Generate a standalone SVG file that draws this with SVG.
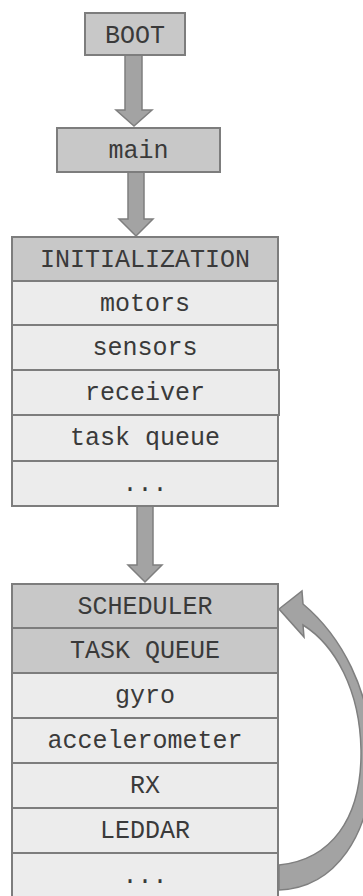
<svg xmlns="http://www.w3.org/2000/svg" width="363" height="896" viewBox="0 0 363 896">
  <style>
    .head { fill: #c8c8c8; stroke: #7d7d7d; stroke-width: 2; }
    .row { fill: #ececec; stroke: #7d7d7d; stroke-width: 2; }
    .lbl { font-family: "Courier New", "Liberation Mono", monospace; font-size: 25px; fill: #3a3a3a; text-anchor: middle; }
    .arrow { fill: #a3a3a3; stroke: #7f7f7f; stroke-width: 1.5; stroke-linejoin: miter; }
  </style>
  <rect width="363" height="896" fill="#ffffff"/>

  <!-- connectors -->
  <g id="connectors">
    <path class="arrow" d="M125 55 H142 V110 H152 L134 126 L116 110 H125 Z"/>
    <path class="arrow" d="M128 172 H144 V219 H153 L136 236 L119 219 H128 Z"/>
    <path class="arrow" d="M137 506 H153 V565 H162 L145 582 L128 565 H137 Z"/>
    <!-- loop back from the last task to the scheduler -->
    <path class="arrow" d="M279 865 C330 860, 362 820, 361 750 C360 690, 335 645, 303 625 L304 637 L279 609 L302 591 L303 604 C340 635, 372 690, 372 760 C372 835, 335 888, 279 890 Z"/>
  </g>

  <g id="boot">
    <rect class="head" x="85" y="13" width="100" height="42"/>
    <text class="lbl" x="135" y="43">BOOT</text>
  </g>
  <g id="main">
    <rect class="head" x="57" y="128" width="163" height="44"/>
    <text class="lbl" x="138.5" y="158">main</text>
  </g>

  <g id="initialization">
    <rect class="head" x="12" y="237" width="266" height="44"/>
    <text class="lbl" x="145" y="267">INITIALIZATION</text>
  </g>
  <g id="init-motors">
    <rect class="row" x="12" y="281" width="266" height="44"/>
    <text class="lbl" x="145" y="311">motors</text>
  </g>
  <g id="init-sensors">
    <rect class="row" x="12" y="325" width="266" height="45"/>
    <text class="lbl" x="145" y="355">sensors</text>
  </g>
  <g id="init-receiver">
    <rect class="row" x="12" y="370" width="267" height="45"/>
    <text class="lbl" x="145" y="400">receiver</text>
  </g>
  <g id="init-task-queue">
    <rect class="row" x="12" y="415" width="266" height="46"/>
    <text class="lbl" x="145" y="445">task queue</text>
  </g>
  <g id="init-more">
    <rect class="row" x="12" y="461" width="266" height="45"/>
    <text class="lbl" x="145" y="491">...</text>
  </g>

  <g id="scheduler">
    <rect class="head" x="12" y="584" width="266" height="44"/>
    <text class="lbl" x="145" y="614">SCHEDULER</text>
  </g>
  <g id="task-queue">
    <rect class="head" x="12" y="628" width="266" height="45"/>
    <text class="lbl" x="145" y="658">TASK QUEUE</text>
  </g>
  <g id="task-gyro">
    <rect class="row" x="12" y="673" width="266" height="45"/>
    <text class="lbl" x="145" y="703">gyro</text>
  </g>
  <g id="task-accelerometer">
    <rect class="row" x="12" y="718" width="266" height="45"/>
    <text class="lbl" x="145" y="748">accelerometer</text>
  </g>
  <g id="task-rx">
    <rect class="row" x="12" y="763" width="266" height="45"/>
    <text class="lbl" x="145" y="793">RX</text>
  </g>
  <g id="task-leddar">
    <rect class="row" x="12" y="808" width="266" height="45"/>
    <text class="lbl" x="145" y="838">LEDDAR</text>
  </g>
  <g id="task-more">
    <rect class="row" x="12" y="853" width="266" height="46"/>
    <text class="lbl" x="145" y="883">...</text>
  </g>
</svg>
